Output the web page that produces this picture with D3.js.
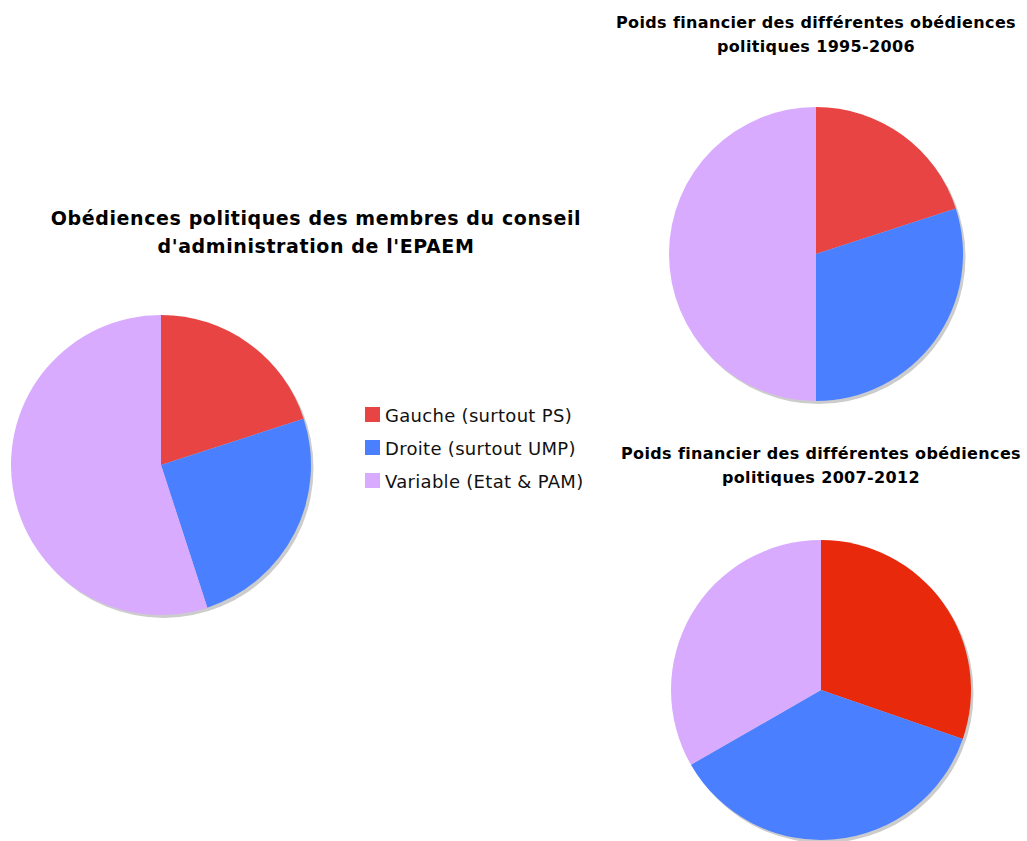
<!DOCTYPE html>
<html>
<head>
<meta charset="utf-8">
<script src="https://cdn.jsdelivr.net/npm/d3@7"></script>
<style>
  body { margin: 0; background: #fff; }
  text { font-family: "DejaVu Sans", Verdana, sans-serif; }
</style>
</head>
<body>
<svg width="1027" height="841"></svg>
<script>
// categories and values (shares in %)
var categories = ["Gauche (surtout PS)", "Droite (surtout UMP)", "Variable (Etat & PAM)"]
var membres = [20, 25, 55]
var poids1995 = [20, 30, 50]
var poids2007 = [30.3, 36.4, 33.3]
var colors = ["#e84444", "#4a80ff", "#d8abff"]
var colors2007 = ["#e8290b", "#4a80ff", "#d8abff"]

var svg = d3.select("svg")

var pie = d3.pie().sort(null).value(d => d)

function drawPie(values, cx, cy, r, fills) {
  var g = svg.append("g").attr("transform", `translate(${cx},${cy})`)
  // shadow
  g.append("circle")
    .attr("cx", 2.5).attr("cy", 3)
    .attr("r", r)
    .attr("fill", "#cccccc")
  var arc = d3.arc().innerRadius(0).outerRadius(r)
  g.selectAll("path")
    .data(pie(values))
    .enter()
    .append("path")
      .attr("d", arc)
      .attr("fill", (d, i) => fills[i])
}

function drawTitle(lines, cx, y, size, lh, ls) {
  var t = svg.append("text")
    .attr("text-anchor", "middle")
    .attr("font-weight", "bold")
    .attr("font-size", size)
    .attr("letter-spacing", ls)
  lines.forEach((l, i) => {
    t.append("tspan").attr("x", cx).attr("y", y + i * lh).text(l)
  })
}

drawPie(membres, 161, 465, 150, colors)
drawPie(poids1995, 816, 254, 147, colors)
drawPie(poids2007, 821, 690, 150, colors2007)

drawTitle(["Obédiences politiques des membres du conseil", "d'administration de l'EPAEM"], 316, 225, 19, 28, 0.6)
drawTitle(["Poids financier des différentes obédiences", "politiques 1995-2006"], 816, 28, 16, 24, 0.35)
drawTitle(["Poids financier des différentes obédiences", "politiques 2007-2012"], 821, 459, 16, 24, 0.35)

// legend
var legend = svg.append("g").attr("transform", "translate(365,407)")
var item = legend.selectAll("g")
  .data(categories)
  .enter()
  .append("g")
    .attr("transform", (d, i) => `translate(0,${i * 33})`)
item.append("rect")
  .attr("width", 15).attr("height", 15)
  .attr("fill", (d, i) => colors[i])
item.append("text")
  .attr("x", 20).attr("y", 15)
  .attr("font-size", 18)
  .attr("letter-spacing", 0.3)
  .attr("fill", "#111")
  .text(d => d)
</script>
</body>
</html>
